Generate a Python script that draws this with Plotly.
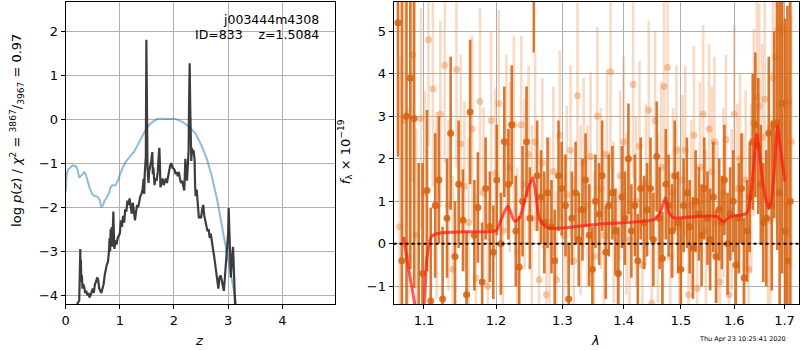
import plotly.graph_objects as go
from plotly.subplots import make_subplots
import numpy as np

# ---------------- Left panel data: log p(z) ----------------
z_pz = [0.19, 0.22, 0.25, 0.265, 0.27, 0.275, 0.28, 0.29, 0.30, 0.31, 0.32, 0.34, 0.36, 0.38, 0.40,
        0.42, 0.44, 0.46, 0.48, 0.50, 0.52, 0.54, 0.56, 0.58, 0.60, 0.62, 0.64, 0.66, 0.68, 0.70,
        0.72, 0.74, 0.76, 0.78, 0.80, 0.81, 0.82, 0.83, 0.84, 0.85, 0.86, 0.87, 0.88, 0.89, 0.90,
        0.92, 0.94, 0.96, 0.98, 1.00, 1.02, 1.04, 1.06, 1.08, 1.10, 1.12, 1.14, 1.16, 1.18, 1.20,
        1.22, 1.24, 1.26, 1.28, 1.30, 1.32, 1.34, 1.36, 1.38, 1.40, 1.42, 1.44, 1.45, 1.46, 1.47,
        1.48, 1.49, 1.50, 1.51, 1.52, 1.53, 1.54, 1.56, 1.58, 1.60, 1.61, 1.62, 1.64, 1.66, 1.68,
        1.70, 1.72, 1.73, 1.74, 1.75, 1.77, 1.79, 1.81, 1.83, 1.85, 1.87, 1.89, 1.91, 1.93, 1.95,
        1.97, 1.99, 2.01, 2.03, 2.05, 2.07, 2.09, 2.11, 2.13, 2.15, 2.17, 2.19, 2.20, 2.21, 2.22,
        2.24, 2.25, 2.26, 2.27, 2.28, 2.29, 2.30, 2.31, 2.32, 2.33, 2.34, 2.36, 2.38, 2.39, 2.40,
        2.42, 2.44, 2.46, 2.48, 2.50, 2.52, 2.54, 2.56, 2.58, 2.60, 2.62, 2.64, 2.66, 2.68, 2.70,
        2.72, 2.74, 2.76, 2.78, 2.80, 2.82, 2.84, 2.86, 2.88, 2.90, 2.92, 2.94, 2.96, 2.98, 3.00,
        3.01, 3.02, 3.03, 3.05, 3.07, 3.09, 3.10, 3.12, 3.13]
logp = [-4.3, -4.18, -4.12, -3.6, -2.95, -3.45, -3.2, -3.7, -3.55, -3.85, -3.75, -3.8, -3.95, -3.9, -4.0,
        -3.95, -4.05, -4.0, -3.9, -3.85, -3.95, -3.75, -3.7, -3.6, -3.65, -3.85, -3.9, -3.95, -3.85, -3.75,
        -3.55, -3.4, -3.3, -3.25, -3.0, -2.7, -3.0, -2.5, -2.8, -2.45, -2.9, -2.55, -2.1, -2.6, -2.95,
        -2.75, -2.85, -2.7, -2.65, -2.6, -2.3, -2.45, -2.2, -2.35, -2.05, -2.1, -1.85, -1.95, -1.8, -2.05,
        -2.15, -1.9, -2.2, -2.3, -2.1, -1.95, -2.0, -1.85, -1.75, -1.7, -1.6, -1.35, -1.7, -1.25, -1.05,
        -0.85, 1.8, -0.5, -1.0, -1.3, -1.45, -1.2, -1.1, -0.95, -0.75, -1.25, -1.1, -1.5, -1.35, -1.4,
        -1.2, -0.8, -0.65, -1.0, -1.55, -1.45, -1.35, -1.5, -1.4, -1.35, -1.45, -1.3, -1.2, -1.05, -1.0,
        -1.1, -1.12, -1.15, -1.25, -1.2, -1.3, -1.2, -1.35, -1.45, -1.4, -1.55, -1.62, -1.3, -0.9, -1.1,
        -1.4, -1.2, -0.9, -0.7, 0.5, 1.27, 0.3, -0.6, -0.95, -0.65, -0.8, -0.7, -0.9, -1.5, -1.75,
        -1.6, -1.9, -2.25, -2.2, -2.25, -2.05, -1.95, -2.2, -2.3, -2.45, -2.55, -2.5, -2.7, -2.6, -2.85,
        -2.95, -3.1, -3.3, -3.5, -3.75, -3.85, -3.6, -3.55, -3.65, -3.8, -3.9, -3.6, -3.3, -3.05, -2.6,
        -2.02, -2.5, -3.3, -3.6, -3.2, -2.9, -3.2, -3.9, -4.3]

z_prior = [0.00, 0.02, 0.04, 0.07, 0.10, 0.13, 0.16, 0.19, 0.22, 0.25, 0.28, 0.31, 0.34, 0.37, 0.40,
           0.44, 0.48, 0.52, 0.56, 0.60, 0.63, 0.66, 0.69, 0.72, 0.76, 0.80, 0.83, 0.86, 0.92, 0.97,
           1.02, 1.06, 1.10, 1.14, 1.18, 1.22, 1.26, 1.30, 1.34, 1.38, 1.42, 1.46, 1.50, 1.55, 1.60,
           1.65, 1.70, 1.80, 1.90, 2.00, 2.10, 2.20, 2.30, 2.40, 2.50, 2.60, 2.70, 2.80, 2.90, 3.00,
           3.10, 3.20]
logp_prior = [-1.65, -1.25, -1.15, -1.12, -1.08, -1.05, -1.06, -1.07, -1.15, -1.32, -1.3, -1.24, -1.21, -1.25, -1.4,
              -1.55, -1.68, -1.74, -1.75, -1.78, -1.85, -2.0, -1.95, -1.85, -1.78, -1.68, -1.55, -1.5, -1.5, -1.38,
              -1.2, -1.07, -0.98, -0.92, -0.85, -0.8, -0.75, -0.65, -0.55, -0.45, -0.35, -0.28, -0.2, -0.12, -0.07,
              -0.02, 0.01, 0.01, 0.0, 0.01, -0.03, -0.1, -0.2, -0.33, -0.58, -0.88, -1.3, -1.85, -2.55, -3.2,
              -3.85, -4.5]

# ---------------- Right panel data: spectrum ----------------
wave_a = [1.066, 1.071, 1.077, 1.082, 1.087, 1.093, 1.098, 1.104, 1.109, 1.115,
          1.120, 1.125, 1.131, 1.136, 1.142, 1.147, 1.153, 1.158, 1.163, 1.169,
          1.174, 1.180, 1.185, 1.191, 1.196, 1.201, 1.207, 1.212, 1.218, 1.223,
          1.229, 1.234, 1.239, 1.245, 1.250, 1.256, 1.261, 1.267, 1.272, 1.277,
          1.283, 1.288, 1.294, 1.299, 1.305, 1.310, 1.315, 1.321, 1.326, 1.332,
          1.337, 1.343, 1.348, 1.353, 1.359, 1.364, 1.370, 1.375, 1.381, 1.386,
          1.391, 1.397, 1.402, 1.408, 1.413, 1.419, 1.424, 1.429, 1.435, 1.440,
          1.446, 1.451, 1.457, 1.462, 1.467, 1.473, 1.478, 1.484, 1.489, 1.495,
          1.500, 1.505, 1.511, 1.516, 1.522, 1.527, 1.533, 1.538, 1.543, 1.549,
          1.554, 1.560, 1.565, 1.571, 1.576, 1.581, 1.587, 1.592, 1.598, 1.603,
          1.609, 1.614, 1.619, 1.625, 1.630, 1.636, 1.641, 1.647, 1.652, 1.657,
          1.663, 1.668, 1.674, 1.679, 1.685, 1.690, 1.695, 1.701, 1.706, 1.712]
flux_a = [5.2, -0.4, 3.0, 3.9, 2.95, -1.6, -0.7, 1.25, -1.35, 0.9,
          1.5, -1.3, 0.6, 2.6, -0.3, 1.4, 0.55, -1.2, 3.1, 0.2,
          0.85, -0.9, 1.3, 0.4, -0.2, 1.5, 0.0, 2.4, 1.4, 2.8,
          0.3, -0.55, 1.0, 2.4, 0.6, 7.0, 1.6, 1.1, 0.5, 1.2,
          0.4, -0.4, 1.6, 1.3, 0.9, -1.3, 0.6, 1.2, 0.1, 0.8,
          1.5, 0.2, -0.6, 1.0, 0.7, 1.6, -0.2, 0.9, 1.2, 0.3,
          -0.7, 1.1, 0.6, 2.0, 0.3, 0.9, -0.4, 1.3, 0.5, 0.8,
          1.3, 0.1, 2.05, 0.6, -0.35, 1.4, 0.9, 0.3, 1.6, 0.5,
          -0.6, 0.9, 1.2, 0.4, -0.1, 1.0, 0.7, 0.2, 1.3, 0.6,
          0.1, 1.1, -0.3, 0.8, 0.5, 1.5, 0.0, 0.7, 1.0, -0.5,
          0.6, 1.3, -0.8, 0.3, 1.1, 2.4, 2.8, 2.3, 1.4, 0.5,
          0.6, 2.6, 0.9, 2.8, 2.85, 1.2, 3.3, 0.3, -0.4, 1.0]
err_a = [3.15, 6.5, 5.0, 4.5, 4.0, 3.5, 2.6, 1.9, 2.2, 1.7,
         1.5, 1.7, 1.4, 1.8, 1.3, 1.5, 1.2, 1.5, 1.7, 1.3,
         1.3, 1.4, 1.2, 1.3, 1.1, 1.3, 1.2, 1.3, 1.3, 1.4,
         1.3, 1.2, 1.3, 1.3, 1.2, 2.5, 1.3, 1.1, 1.2, 1.3,
         1.1, 1.2, 1.3, 1.1, 1.2, 1.3, 1.1, 1.2, 1.1, 1.2,
         1.1, 1.2, 1.0, 1.1, 1.2, 1.3, 1.1, 1.2, 1.1, 1.0,
         1.1, 1.2, 1.1, 1.3, 1.1, 1.2, 1.1, 1.2, 1.1, 1.1,
         1.2, 1.1, 1.3, 1.2, 1.1, 1.3, 1.2, 1.1, 1.3, 1.2,
         1.2, 1.1, 1.3, 1.1, 1.2, 1.2, 1.1, 1.2, 1.2, 1.1,
         1.2, 1.3, 1.1, 1.2, 1.1, 1.3, 1.2, 1.1, 1.2, 1.2,
         1.3, 1.3, 1.4, 1.2, 1.3, 1.6, 1.7, 1.6, 1.4, 1.4,
         1.6, 1.8, 2.0, 2.2, 3.0, 4.5, 4.0, 5.0, 6.0, 6.5]

wave_b = [1.068, 1.074, 1.079, 1.085, 1.090, 1.096, 1.101, 1.106, 1.112, 1.117,
          1.122, 1.128, 1.133, 1.139, 1.144, 1.150, 1.155, 1.161, 1.166, 1.171,
          1.177, 1.182, 1.188, 1.193, 1.199, 1.204, 1.210, 1.215, 1.220, 1.226,
          1.231, 1.237, 1.242, 1.248, 1.253, 1.258, 1.264, 1.269, 1.275, 1.280,
          1.286, 1.291, 1.296, 1.302, 1.307, 1.313, 1.318, 1.324, 1.329, 1.334,
          1.340, 1.345, 1.351, 1.356, 1.362, 1.367, 1.372, 1.378, 1.383, 1.389,
          1.394, 1.400, 1.405, 1.410, 1.416, 1.421, 1.427, 1.432, 1.438, 1.443,
          1.448, 1.454, 1.459, 1.465, 1.470, 1.476, 1.481, 1.486, 1.492, 1.497,
          1.503, 1.508, 1.514, 1.519, 1.524, 1.530, 1.535, 1.541, 1.546, 1.552,
          1.557, 1.562, 1.568, 1.573, 1.579, 1.584, 1.590, 1.595, 1.600, 1.606,
          1.611, 1.617, 1.622, 1.628, 1.633, 1.638, 1.644, 1.649, 1.655, 1.660,
          1.666, 1.671, 1.676, 1.682, 1.687, 1.693, 1.698, 1.704, 1.709, 1.714]
flux_b = [0.4, 2.9, -0.3, 4.45, 0.2, 2.95, 1.2, 4.8, 3.65, 0.9,
          3.05, 4.2, 0.9, -0.6, 4.1, 2.35, 1.35, 0.5, 2.7, -0.8,
          3.35, 1.2, -1.0, 2.9, 1.65, 3.3, 0.3, 2.35, 1.8, 2.8,
          -0.2, 2.8, 1.4, 2.1, 0.6, 2.4, -0.85, 1.9, -1.2, 0.5,
          1.7, -0.85, 2.55, 0.2, 1.15, 2.2, -0.4, 3.48, 0.8, 1.9,
          0.9, 2.05, -0.3, 3.0, 1.3, 0.2, 2.1, 4.05, 0.5, -0.7,
          1.6, 2.4, 0.7, 0.1, 3.75, 1.0, 2.3, -0.5, 1.4, 3.15,
          -1.4, 2.9, 0.6, 1.8, 3.7, 4.15, -0.3, 1.2, 2.2, 0.4,
          1.5, 2.2, -1.2, 0.9, 2.55, -1.05, 1.8, 3.05, 0.3, 2.7,
          1.7, 2.4, 0.5, -0.9, 1.2, 2.45, -1.2, 0.8, 3.05, 1.3,
          2.0, 0.6, 1.5, -0.6, 1.3, 2.85, 3.45, 3.25, 2.5, 3.4,
          0.6, 0.55, 3.9, 4.4, 5.05, 5.1, 5.0, 0.9, 3.35, 2.4]
err_b = [4.0, 3.0, 3.5, 3.0, 2.5, 2.6, 2.4, 2.5, 2.3, 2.2,
         2.2, 2.3, 2.0, 2.2, 2.3, 2.1, 2.0, 2.0, 2.2, 2.0,
         2.2, 2.0, 2.0, 2.1, 2.0, 2.2, 2.0, 2.1, 2.0, 2.1,
         2.0, 2.1, 2.0, 2.1, 2.2, 2.1, 2.0, 2.0, 2.1, 2.0,
         2.0, 2.1, 2.0, 1.9, 2.1, 2.0, 2.0, 2.2, 2.0, 2.0,
         1.9, 2.0, 2.0, 2.1, 1.9, 2.0, 2.0, 2.3, 1.9, 2.0,
         2.0, 2.0, 1.9, 2.0, 2.2, 2.0, 2.0, 2.0, 1.9, 2.1,
         2.0, 2.1, 2.0, 2.0, 2.2, 2.3, 2.0, 2.0, 2.0, 1.9,
         2.0, 2.0, 2.0, 2.0, 2.1, 2.0, 2.0, 2.1, 1.9, 2.0,
         2.0, 2.0, 1.9, 2.0, 2.0, 2.0, 2.0, 1.9, 2.1, 2.0,
         2.0, 2.0, 2.1, 2.0, 2.0, 2.2, 2.4, 2.4, 2.2, 2.3,
         2.2, 2.3, 2.6, 3.0, 3.2, 3.3, 3.4, 3.0, 3.2, 3.0]

wave_model = [1.0731, 1.0838, 1.0926, 1.0990, 1.1036, 1.1101, 1.1213, 1.1555, 1.2002, 1.2074,
              1.2172, 1.2271, 1.2344, 1.2469, 1.2544, 1.2594, 1.2647, 1.2774, 1.3031, 1.3565,
              1.4521, 1.4638, 1.4723, 1.4786, 1.4873, 1.5297, 1.5668, 1.5783, 1.5923, 1.6243,
              1.6341, 1.6440, 1.6506, 1.6570, 1.6672, 1.6738, 1.6859, 1.6904, 1.7006]
flux_model = [0.16, -1.01, -1.75, -1.6, -0.38, 0.17, 0.25, 0.28, 0.31, 0.57,
              0.88, 0.53, 0.6, 1.28, 1.55, 1.12, 0.57, 0.37, 0.37, 0.46,
              0.57, 0.76, 1.08, 0.73, 0.61, 0.64, 0.64, 0.52, 0.63, 0.72,
              1.35, 2.58, 1.99, 1.35, 0.84, 1.04, 2.77, 2.36, 1.47]

xticks_right = [1.1, 1.2, 1.3, 1.4, 1.5, 1.6, 1.7]
xticks_left = [0, 1, 2, 3, 4]
yticks_left = [-4, -3, -2, -1, 0, 1, 2]
yticks_right = [-1, 0, 1, 2, 3, 4, 5]

FONT = "DejaVu Sans"
W, H = 800, 350
MT, MB = 2, 46
PH = H - MT - MB

fig = make_subplots(rows=1, cols=2)

fig.add_trace(go.Scatter(x=z_prior, y=logp_prior, mode="lines",
                         line=dict(color="rgba(31,119,180,0.5)", width=2),
                         showlegend=False), row=1, col=1)
fig.add_trace(go.Scatter(x=z_pz, y=logp, mode="lines",
                         line=dict(color="rgba(40,40,40,0.9)", width=2.2),
                         showlegend=False), row=1, col=1)

dark = "rgba(214,100,18,0.88)"
light = "rgba(235,140,70,0.32)"
fig.add_trace(go.Scatter(x=wave_b, y=flux_b, mode="markers",
                         marker=dict(color="rgba(230,130,60,0.42)", size=7, line=dict(width=0)),
                         error_y=dict(type="data", array=err_b, visible=True, color=light,
                                      thickness=2.6, width=0),
                         showlegend=False), row=1, col=2)
fig.add_trace(go.Scatter(x=wave_a, y=flux_a, mode="markers",
                         marker=dict(color=dark, size=7, line=dict(width=0)),
                         error_y=dict(type="data", array=err_a, visible=True, color=dark,
                                      thickness=2.6, width=0),
                         showlegend=False), row=1, col=2)
fig.add_trace(go.Scatter(x=wave_model, y=flux_model, mode="lines",
                         line=dict(color="rgba(255,25,20,0.72)", width=3, shape="spline", smoothing=0.6),
                         showlegend=False), row=1, col=2)

fig.add_shape(type="line", xref="x2 domain", yref="y2", x0=0, x1=1, y0=0, y1=0,
              line=dict(color="black", width=2, dash="dot"))

axis_common = dict(showgrid=True, gridcolor="#b0b0b0", gridwidth=1, zeroline=False,
                   showline=True, linecolor="black", linewidth=1, mirror=True,
                   ticks="outside", ticklen=4, tickcolor="black",
                   tickfont=dict(family=FONT, size=13, color="black"))

fig.update_xaxes(**axis_common)
fig.update_yaxes(**axis_common)

fig.update_layout(
    xaxis=dict(domain=[62 / W, 333 / W], range=[0, 4.98], tickvals=xticks_left),
    yaxis=dict(range=[-4.2, 2.66], tickvals=yticks_left),
    xaxis2=dict(domain=[391.5 / W, 799 / W], type="log",
                range=[float(np.log10(1.0603)), float(np.log10(1.730))],
                tickvals=xticks_right, ticktext=[f"{v:.1f}" for v in xticks_right]),
    yaxis2=dict(range=[-1.42, 5.69], tickvals=yticks_right),
    width=W, height=H,
    margin=dict(l=0, r=0, t=MT, b=MB),
    paper_bgcolor="white", plot_bgcolor="white",
    font=dict(family=FONT, size=13, color="black"),
)

def py(pix):
    return (H - MB - pix) / PH

ann = [
    dict(text="log <i>p</i>(<i>z</i>) / <i>χ</i><sup>2</sup> = <sup>3867</sup>/<sub>3967</sub> = 0.97",
         x=13 / W, y=py(130), textangle=-90, font=dict(size=13)),
    dict(text="<i>f</i><sub>λ</sub> × 10<sup>−19</sup>", x=343 / W, y=py(152), textangle=-90,
         font=dict(size=13)),
    dict(text="<i>z</i>", x=196 / W, y=py(340), font=dict(size=13)),
    dict(text="<i>λ</i>", x=594 / W, y=py(340), font=dict(size=13)),
    dict(text="j003444m4308", x=319 / W, y=py(20), xanchor="right", font=dict(size=12.5)),
    dict(text="ID=833\u00a0\u00a0\u00a0\u00a0z=1.5084", x=319 / W, y=py(34), xanchor="right",
         font=dict(size=12.5)),
    dict(text="Thu Apr 23 10:25:41 2020", x=742 / W, y=py(339), font=dict(size=6.5)),
]
for a in ann:
    a.setdefault("xanchor", "center")
    a.update(xref="paper", yref="paper", showarrow=False, yanchor="middle")
    a["font"] = dict(family=FONT, color="black", size=a["font"]["size"])
fig.update_layout(annotations=ann)

fig.write_html("out.html", config={"displayModeBar": False},
               post_script="document.body.style.margin='0px';document.body.style.overflow='hidden';")
